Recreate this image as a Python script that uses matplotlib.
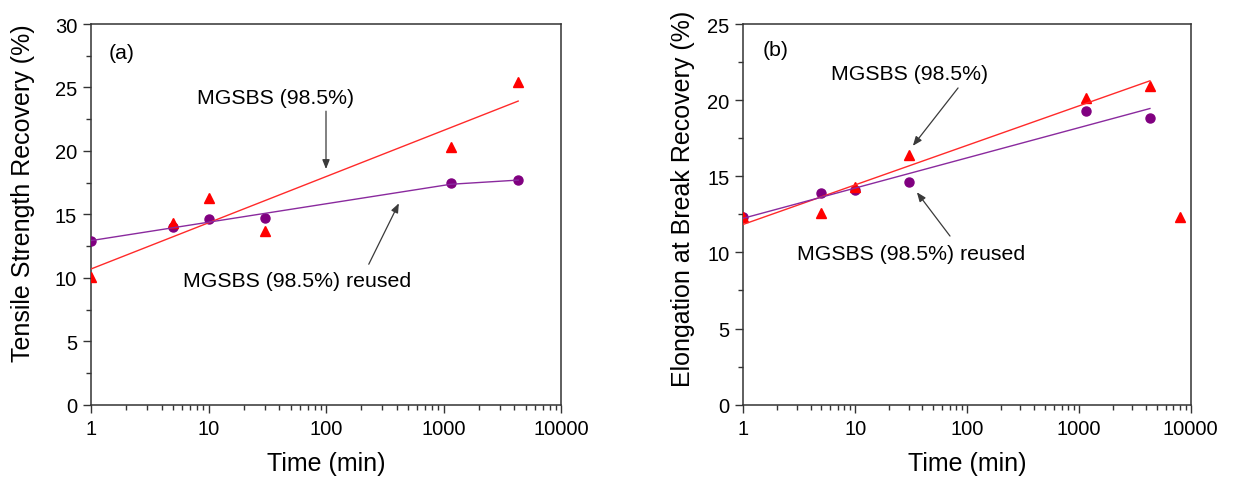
import numpy as np
import matplotlib
matplotlib.use("Agg")
import matplotlib.pyplot as plt
from matplotlib.ticker import MultipleLocator, LogLocator, NullFormatter, FixedLocator, FixedFormatter

plt.rcParams['font.family'] = ['Liberation Sans', 'DejaVu Sans']

# Healing time (min)
time_a = [1, 5, 10, 30, 1150, 4320]
time_b = [1, 5, 10, 30, 1150, 4320, 8000]

# (a) tensile strength recovery (%)
ts_fresh = [10.1, 14.3, 16.25, 13.7, 20.3, 25.45]
ts_reused = [12.9, 14.0, 14.65, 14.7, 17.45, 17.7]

# (b) elongation at break recovery (%)
eb_fresh = [12.3, 12.6, 14.3, 16.4, 20.15, 20.9, 12.35]
eb_reused = [12.3, 13.88, 14.12, 14.6, 19.3, 18.83]

x_ticks = [1, 10, 100, 1000, 10000]
x_ticklabels = ['1', '10', '100', '1000', '10000']

RED = '#ff0000'
RED_LINE = '#ff2a2a'
PURPLE = '#800080'
PURPLE_LINE = '#8a2a9e'
SPINE = '#333333'
TICK_FS = 14.5
LABEL_FS = 18
NOTE_FS = 15.3


def log_fit(x, y):
    """Least-squares line of y against log10(x)."""
    return np.polyfit(np.log10(x), np.asarray(y, float), 1)


def fit_curve(coef, x0, x1, n=200):
    xs = np.logspace(np.log10(x0), np.log10(x1), n)
    return xs, np.polyval(coef, np.log10(xs))


def style_axes(ax, ymax):
    ax.set_xscale('log')
    ax.set_xlim(1, 10000)
    ax.set_ylim(0, ymax)
    ax.xaxis.set_major_locator(FixedLocator(x_ticks))
    ax.xaxis.set_major_formatter(FixedFormatter(x_ticklabels))
    ax.xaxis.set_minor_locator(LogLocator(base=10, subs=np.arange(2, 10)))
    ax.xaxis.set_minor_formatter(NullFormatter())
    ax.yaxis.set_major_locator(MultipleLocator(5))
    ax.yaxis.set_minor_locator(MultipleLocator(2.5))
    for s in ax.spines.values():
        s.set_color(SPINE)
        s.set_linewidth(1.1)
    ax.tick_params(which='both', direction='out', colors=SPINE, labelcolor='black',
                   top=False, right=False, width=1.0)
    ax.tick_params(which='major', length=6, labelsize=TICK_FS, pad=4)
    ax.tick_params(which='minor', length=3.5)


def arrow(ax, tail, head):
    ax.annotate('', xy=head, xytext=tail, xycoords='axes fraction', textcoords='axes fraction',
                arrowprops=dict(arrowstyle='-|>,head_length=0.55,head_width=0.22',
                                color='#3a3a3a', lw=0.9, shrinkA=0, shrinkB=0))


fig = plt.figure(figsize=(12.5, 4.81), dpi=100)
ax1 = fig.add_axes([91 / 1250, 1 - 405.7 / 481, 470 / 1250, 380.7 / 481])
ax2 = fig.add_axes([743.3 / 1250, 1 - 405.7 / 481, 447.4 / 1250, 380.7 / 481])

# ---- (a) tensile strength ----
style_axes(ax1, 30)
ax1.plot(time_a, ts_reused, 'o', color=PURPLE, ms=6.5, mec=PURPLE, zorder=3)
ax1.plot(time_a, ts_fresh, '^', color=RED, ms=7.5, mec=RED, zorder=3)

xs, ys = fit_curve(log_fit(time_a, ts_fresh), time_a[0], time_a[-1])
ax1.plot(xs, ys, color=RED_LINE, lw=1.0, zorder=4)

# reused trend: log fit up to the 1150 min point, then joined to the last point
c_re = log_fit(time_a[:-1], ts_reused[:-1])
xs, ys = fit_curve(c_re, time_a[0], time_a[-2])
xs = np.append(xs, time_a[-1])
ys = np.append(ys, ts_reused[-1])
ax1.plot(xs, ys, color=PURPLE_LINE, lw=1.0, zorder=4)

ax1.text(0.038, 0.926, '(a)', transform=ax1.transAxes, fontsize=NOTE_FS, ha='left', va='center')
ax1.text(0.225, 0.806, 'MGSBS (98.5%)', transform=ax1.transAxes, fontsize=NOTE_FS, ha='left', va='center')
arrow(ax1, (0.50, 0.771), (0.50, 0.619))
ax1.text(0.195, 0.325, 'MGSBS (98.5%) reused', transform=ax1.transAxes, fontsize=NOTE_FS, ha='left', va='center')
arrow(ax1, (0.591, 0.369), (0.655, 0.529))

ax1.set_xlabel('Time (min)', fontsize=LABEL_FS)
ax1.xaxis.set_label_coords(0.501, -0.122)
ax1.xaxis.label.set_va('top')
ax1.set_ylabel('Tensile Strength Recovery (%)', fontsize=LABEL_FS)
ax1.yaxis.set_label_coords(-0.145, 0.559)
ax1.yaxis.label.set_va('center')

# ---- (b) elongation at break ----
style_axes(ax2, 25)
ax2.plot(time_b[:len(eb_reused)], eb_reused, 'o', color=PURPLE, ms=6.5, mec=PURPLE, zorder=3)
ax2.plot(time_b, eb_fresh, '^', color=RED, ms=7.5, mec=RED, zorder=3)

n_fit = len(eb_reused)
xs, ys = fit_curve(log_fit(time_b[:n_fit], eb_fresh[:n_fit]), time_b[0], time_b[n_fit - 1])
ax2.plot(xs, ys, color=RED_LINE, lw=1.0, zorder=4)
xs, ys = fit_curve(log_fit(time_b[:n_fit], eb_reused), time_b[0], time_b[n_fit - 1])
ax2.plot(xs, ys, color=PURPLE_LINE, lw=1.0, zorder=4)

ax2.text(0.043, 0.932, '(b)', transform=ax2.transAxes, fontsize=NOTE_FS, ha='left', va='center')
ax2.text(0.196, 0.871, 'MGSBS (98.5%)', transform=ax2.transAxes, fontsize=NOTE_FS, ha='left', va='center')
arrow(ax2, (0.480, 0.832), (0.379, 0.680))
ax2.text(0.121, 0.396, 'MGSBS (98.5%) reused', transform=ax2.transAxes, fontsize=NOTE_FS, ha='left', va='center')
arrow(ax2, (0.462, 0.443), (0.388, 0.558))

ax2.set_xlabel('Time (min)', fontsize=LABEL_FS)
ax2.xaxis.set_label_coords(0.501, -0.122)
ax2.xaxis.label.set_va('top')
ax2.set_ylabel('Elongation at Break Recovery (%)', fontsize=LABEL_FS)
ax2.yaxis.set_label_coords(-0.135, 0.542)
ax2.yaxis.label.set_va('center')

fig.savefig('out.png', dpi=100)
